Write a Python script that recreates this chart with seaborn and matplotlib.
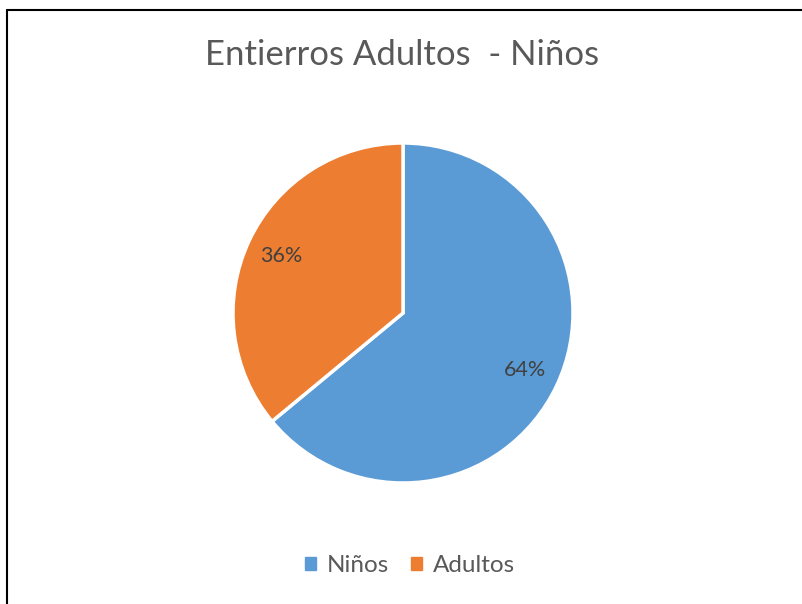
import matplotlib
matplotlib.use("Agg")
import matplotlib.pyplot as plt
import seaborn as sns
from matplotlib.lines import Line2D

labels = ["Niños", "Adultos"]
values = [64, 36]
colors = ["#5B9BD5", "#ED7D31"]
title = "Entierros Adultos  - Niños"

sns.set_theme(style="white")
plt.rcParams['font.family'] = ['Lato', 'DejaVu Sans']

fig = plt.figure(figsize=(8.02, 6.04), dpi=100)
W, H = 802, 604
ax = fig.add_axes([233 / W, (H - 483) / H, 340 / W, 340 / H])

wedges, texts, autotexts = ax.pie(
    values, colors=sns.color_palette(colors), startangle=90, counterclock=False,
    autopct='%1.0f%%', pctdistance=0.79,
    wedgeprops=dict(edgecolor='white', linewidth=2.5),
    textprops=dict(color='#404040', fontsize=15.5),
)
ax.set_xlim(-1, 1)
ax.set_ylim(-1, 1)
ax.set_aspect('equal')

fig.text(402 / W, 1 - 55 / H, title, ha='center', va='center', fontsize=25, color='#595959')

handles = [plt.Rectangle((0, 0), 1, 1, color=c) for c in colors]
fig.legend(handles, labels, loc='center', bbox_to_anchor=(410 / W, 1 - 566 / H), ncol=2,
           frameon=False, fontsize=17.5, handlelength=0.45, handleheight=0.45,
           handletextpad=0.45, columnspacing=0.9, labelcolor='#595959')

# frame lines
fig.add_artist(Line2D([7 / W, 1], [1 - 10 / H, 1 - 10 / H], color='black', lw=1.5))
fig.add_artist(Line2D([7 / W, 7 / W], [0, 1 - 10 / H], color='black', lw=1.5))

fig.savefig("out.png", dpi=100, facecolor='white')
